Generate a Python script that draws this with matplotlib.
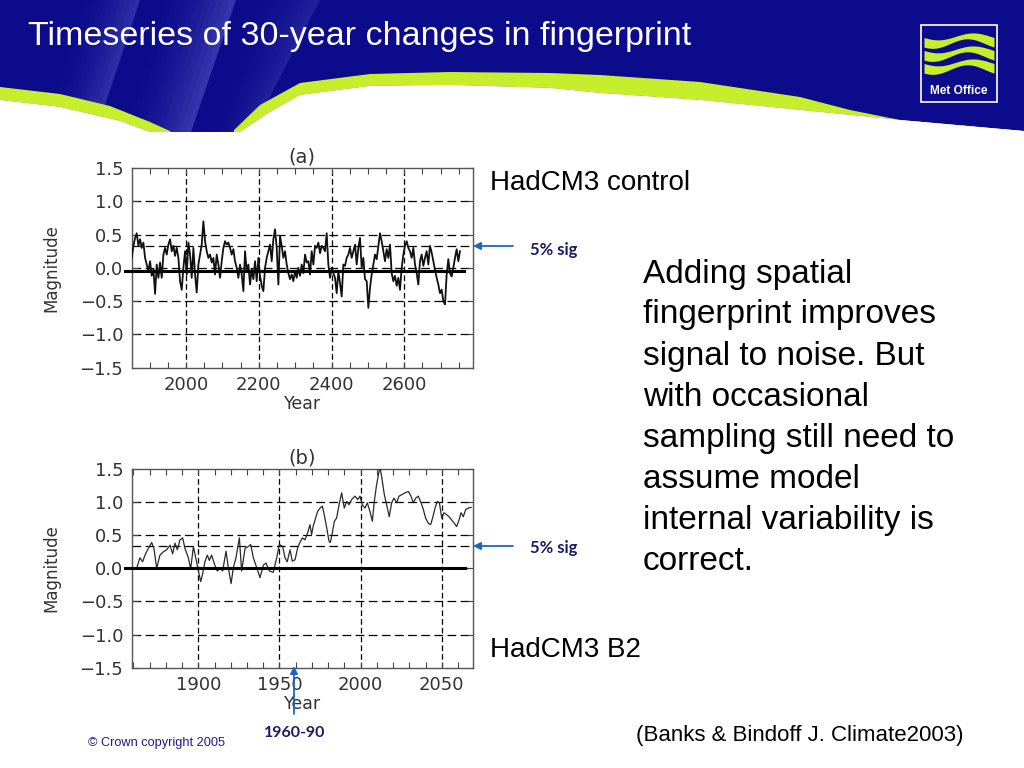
import numpy as np
import matplotlib
matplotlib.use("Agg")
import matplotlib.pyplot as plt
from matplotlib.ticker import FixedLocator, MultipleLocator, FuncFormatter

# ---------------- data ----------------
title_text = "Timeseries of 30-year changes in fingerprint"

# panel (a): HadCM3 control, values every ~4.6 model years
start_a = 1850.8
step_a = 4.58
mag_a = [0.15, 0.33, 0.45, 0.52, 0.33, 0.43, 0.30, 0.38, 0.15, 0.05,
         -0.05, 0.10, -0.12, -0.02, -0.39, 0.05, -0.15, 0.08, -0.15, 0.20,
         0.30, 0.20, 0.35, 0.43, 0.25, 0.33, 0.18, 0.30, 0.15, -0.20,
         -0.33, 0.00, 0.25, -0.10, 0.38, 0.20, -0.15, 0.30, -0.10, -0.37,
         0.05, 0.20, 0.35, 0.70, 0.40, 0.25, 0.15, 0.20, 0.08, 0.15,
         -0.10, 0.20, 0.05, -0.15, 0.10, 0.30, 0.40, 0.35, 0.38, 0.30,
         0.20, 0.28, 0.10, 0.00, -0.15, 0.05, -0.10, -0.35,
         0.25, -0.05, 0.05, -0.25, -0.02, -0.17, 0.10, -0.20, 0.15, -0.12,
         -0.27, -0.35, 0.00, 0.15, 0.25, 0.35, 0.10, 0.43, 0.58, 0.30,
         -0.25, 0.48, 0.33, 0.15, 0.25, 0.05, -0.08, -0.17, -0.10, -0.20,
         -0.05, -0.15, 0.00, -0.12, 0.05, -0.08, 0.20, 0.08, 0.10, -0.10,
         0.25, 0.05, 0.33, 0.30, 0.38, 0.22, 0.33, 0.30, 0.25, 0.52,
         0.05, -0.15, 0.00, -0.08, -0.15, -0.38, -0.05, -0.23, -0.43, 0.05,
         0.03, 0.15, 0.20, 0.30, 0.15, 0.25,
         0.35, 0.05, 0.30, 0.45, 0.00, 0.15, -0.17, -0.20, -0.60, -0.30,
         -0.10, 0.05, 0.20, 0.13, 0.33, 0.52, 0.40, 0.25, 0.10, 0.28,
         0.15, 0.35, -0.08, -0.20, -0.12, -0.27, -0.15, -0.33, 0.00, 0.20,
         0.33, 0.40, 0.30, 0.25, 0.15, 0.30, 0.05, -0.08, -0.25, 0.10,
         0.20, 0.03, 0.15, 0.25, 0.05, 0.33, 0.23, 0.10, -0.03, -0.15,
         -0.25, -0.38, -0.33, -0.50, -0.55, -0.10, 0.13, -0.08, -0.13, 0.00,
         0.15, 0.28, 0.10, 0.25]

# panel (b): HadCM3 B2
years_b = [1859.0, 1862.0, 1864.1, 1865.7, 1867.2, 1869.2, 1871.3, 1872.7, 1874.4, 1876.4,
           1878.5, 1880.5, 1882.6, 1884.2, 1885.7, 1887.1, 1888.7, 1890.4, 1891.8, 1893.9,
           1895.3, 1897.0, 1898.4, 1900.0, 1901.5, 1902.7, 1904.1, 1905.6, 1906.8, 1908.2,
           1910.3, 1911.7, 1913.4, 1915.0, 1917.1, 1918.5, 1920.2, 1921.6, 1923.2, 1925.3,
           1926.7, 1928.8, 1930.8, 1932.3, 1933.9, 1936.0, 1938.0, 1940.1, 1941.7, 1943.8,
           1946.2, 1948.3, 1949.9, 1952.0, 1953.4, 1954.8, 1956.5, 1957.9,
           1959.6, 1961.2, 1962.6, 1964.1, 1965.7, 1967.4, 1968.8, 1969.8, 1970.8, 1972.3,
           1973.5, 1975.0, 1976.4, 1977.6, 1979.1, 1980.5, 1981.3, 1982.5, 1983.8, 1985.2,
           1986.7, 1988.3, 1989.9, 1991.4, 1992.8, 1994.5, 1996.5, 1998.2, 1999.6, 2001.0,
           2002.7, 2004.1, 2005.7, 2007.2, 2008.4, 2009.8, 2011.3, 2011.9, 2012.9, 2014.6,
           2016.0, 2017.6, 2019.1, 2020.5, 2022.2, 2023.6, 2025.2, 2027.3, 2029.4, 2031.0,
           2032.4, 2033.9, 2035.5, 2037.2, 2038.6, 2040.0, 2041.7, 2043.1, 2044.3, 2045.8,
           2047.2, 2048.5, 2049.9, 2051.3, 2053.0, 2054.4, 2056.0, 2057.7, 2059.1, 2060.6,
           2061.8, 2063.2, 2064.7, 2066.3, 2068.0]
mag_b = [0.00, 0.00, 0.16, 0.10, 0.20, 0.30, 0.39, 0.30, 0.00, 0.20,
         0.25, 0.28, 0.35, 0.22, 0.38, 0.28, 0.43, 0.46, 0.30, 0.16,
         -0.01, 0.33, 0.16, -0.03, -0.20, -0.08, 0.10, 0.20, 0.12, 0.20,
         0.04, -0.04, 0.00, -0.04, 0.26, 0.01, -0.23, 0.01, 0.16, 0.46,
         -0.04, 0.30, 0.33, 0.36, 0.16, 0.01, -0.14, 0.05, 0.08, -0.04,
         -0.06, 0.16, 0.36, 0.33, 0.16, 0.10, 0.28, 0.11,
         0.13, 0.31, 0.39, 0.46, 0.43, 0.54, 0.66, 0.51, 0.64, 0.76,
         0.86, 0.91, 0.94, 0.81, 0.61, 0.41, 0.39, 0.53, 0.71, 0.76,
         0.96, 1.14, 0.91, 1.01, 0.96, 1.04, 1.09, 1.04, 1.09, 0.96,
         0.91, 0.99, 0.86, 0.71, 1.01, 1.26, 1.46, 1.52, 1.39, 1.11,
         0.96, 0.78, 0.99, 1.06, 0.99, 1.09, 1.11, 1.14, 1.16, 1.09,
         0.99, 1.06, 1.09, 0.99, 0.89, 0.76, 0.68, 0.66, 0.76, 0.91,
         1.01, 0.99, 0.76, 0.84, 0.81, 0.78, 0.73, 0.68, 0.63, 0.73,
         0.84, 0.78, 0.89, 0.91, 0.92]

sig_level = 0.33
zero_a = -0.04
zero_b = 0.0
xticks_a = [2000, 2200, 2400, 2600]
xticks_b = [1900, 1950, 2000, 2050]
yticks = [-1.5, -1.0, -0.5, 0.0, 0.5, 1.0, 1.5]
ygrid = [-1.0, -0.5, 0.0, 0.5, 1.0]
body_lines = ["Adding spatial", "fingerprint improves", "signal to noise. But",
              "with occasional", "sampling still need to", "assume model",
              "internal variability is", "correct."]

# ---------------- figure ----------------
W, H = 1024, 768
fig = plt.figure(figsize=(W / 100, H / 100), dpi=100)
fig.patch.set_facecolor("white")

# header background in pixel coordinates
bg = fig.add_axes([0, 0, 1, 1], zorder=0)
bg.set_xlim(0, W)
bg.set_ylim(H, 0)
bg.axis("off")

blue = "#0b0b8c"
lime = "#c6ee2c"
xs = np.linspace(0, W, 500)
Wx = [0, 60, 120, 150, 240, 270, 300, 370, 450, 550, 600, 700, 800, 900, 1024]
Wy = [100, 107, 121, 132, 132, 112, 95, 86, 85, 88, 93, 100, 110, 120, 131]
Lx = [0, 60, 110, 150, 172, 232, 260, 300, 370, 450, 550, 600, 700, 800, 850, 900, 1024]
Ly = [87, 94, 106, 122, 132, 132, 105, 83, 74, 72, 73, 75, 82, 97, 110, 120, 131]
wy = np.interp(xs, Wx, Wy)
ly = np.interp(xs, Lx, Ly)
bg.fill_between(xs, 0, wy, color=blue, lw=0)

def stripe(left_edge, right_edge, amax):
    n = 12
    for k in range(n):
        f0, f1 = k / n, (k + 1) / n
        (lx0, ly0), (lx1, ly1) = left_edge
        (rx0, ry0), (rx1, ry1) = right_edge
        p = [(lx0 + (rx0 - lx0) * f0, 0), (lx0 + (rx0 - lx0) * f1, 0),
             (lx1 + (rx1 - lx1) * f1, 135), (lx1 + (rx1 - lx1) * f0, 135)]
        bg.add_patch(plt.Polygon(p, closed=True, color="#7a7ae0",
                                 alpha=amax * (f1 ** 1.6), lw=0))

stripe(((80, 0), (40, 135)), ((140, 0), (95, 135)), 0.32)
stripe(((160, 0), (120, 135)), ((236, 0), (190, 135)), 0.38)
stripe(((250, 0), (210, 135)), ((320, 0), (250, 135)), 0.20)

bg.fill_between(xs, ly, wy, where=wy > ly, color=lime, lw=0)
bg.fill_between(xs, wy, 140, color="white", lw=0)

bg.text(28, 36, title_text, color="white", fontsize=24.5,
        family="Liberation Sans", va="center", ha="left")

# Met Office logo
bg.add_patch(plt.Rectangle((921, 25), 76, 77, facecolor=blue,
                           edgecolor="white", lw=1.2))
lx_ = np.linspace(924, 994, 60)
for y0 in [40, 53, 66]:
    c = y0 + 4.0 * np.sin((lx_ - 924) / 70 * 2 * np.pi + 0.6)
    th = 3.6 + 1.2 * np.cos((lx_ - 924) / 70 * 2 * np.pi)
    bg.fill_between(lx_, c - th, c + th, color=lime, lw=0)
bg.text(959, 91, "Met Office", color="white", fontsize=8.6,
        fontweight="bold", family="Liberation Sans", ha="center", va="center")

# right-hand texts
bg.text(490, 183, "HadCM3 control", fontsize=20, family="Liberation Sans",
        va="center", ha="left")
bg.text(490, 650, "HadCM3 B2", fontsize=20, family="Liberation Sans",
        va="center", ha="left")
for i, line in enumerate(body_lines):
    bg.text(643, 274 + 41 * i, line, fontsize=24, family="Liberation Sans",
            va="center", ha="left")
bg.text(636, 735, "(Banks & Bindoff J. Climate2003)", fontsize=16,
        family="Liberation Sans", va="center", ha="left")
bg.text(88, 743, "\u00a9 Crown copyright 2005", fontsize=9.2, color="#1a1a8c",
        family="Liberation Sans", va="center", ha="left")
navy = "#1c1c66"
bg.text(530, 250, "5% sig", fontsize=12, fontweight="bold", color=navy,
        family="Lato", va="center", ha="left")
bg.text(530, 548, "5% sig", fontsize=12, fontweight="bold", color=navy,
        family="Lato", va="center", ha="left")
bg.text(295, 733, "1960-90", fontsize=11.5, fontweight="bold", color=navy,
        family="Lato", va="center", ha="center")

# ---------------- the two plots ----------------
def fmt(v, pos):
    s = "%.1f" % abs(v)
    return ("\u2212" + s) if v < -1e-9 else s

tick_col = "#333333"

def style_axes(ax, xticks, minor, xlim, label):
    ax.set_xlim(*xlim)
    ax.set_ylim(-1.5, 1.5)
    ax.xaxis.set_major_locator(FixedLocator(xticks))
    ax.xaxis.set_minor_locator(MultipleLocator(minor))
    ax.yaxis.set_major_locator(FixedLocator(yticks))
    ax.yaxis.set_major_formatter(FuncFormatter(fmt))
    ax.tick_params(which="both", direction="in", top=True, right=True,
                   length=4, width=0.8, color="#444444",
                   labelsize=13, labelcolor=tick_col)
    ax.tick_params(axis="x", pad=6)
    ax.tick_params(axis="y", pad=6)
    for sp in ax.spines.values():
        sp.set_color("#555555")
        sp.set_linewidth(1.0)
    for g in ygrid + [sig_level]:
        ax.axhline(g, color="black", lw=0.9, ls=(0, (7, 3.5)), zorder=1)
    for t in xticks:
        ax.axvline(t, color="black", lw=0.9, ls=(0, (4.5, 2.5)), zorder=1)
    ax.set_xlabel("Year", fontsize=12.5, color=tick_col, labelpad=1)
    ax.set_ylabel("Magnitude", fontsize=12, color=tick_col, labelpad=14)
    ax.set_title(label, fontsize=14, color=tick_col, pad=4)

axa = fig.add_axes([131.7 / W, 1 - 367.7 / H, 341 / W, 199.7 / H], zorder=2)
axa.set_facecolor("white")
style_axes(axa, xticks_a, 50, (1850.7, 2788), "(a)")
years_a = start_a + step_a * np.arange(len(mag_a))
axa.plot(years_a, mag_a, color="#111111", lw=1.3, zorder=3)
axa.plot([1832, 2765], [zero_a, zero_a], color="black", lw=2.2,
         clip_on=False, zorder=4)

axb = fig.add_axes([131.7 / W, 1 - 667.7 / H, 341 / W, 198.7 / H], zorder=2)
axb.set_facecolor("white")
style_axes(axb, xticks_b, 10, (1859, 2069), "(b)")
axb.plot(years_b, mag_b, color="#2a2a2a", lw=0.9, zorder=3)
axb.plot([1855, 2064], [zero_b, zero_b], color="black", lw=2.2,
         clip_on=False, zorder=4)

# arrows (on top)
ov = fig.add_axes([0, 0, 1, 1], zorder=5)
ov.set_xlim(0, W)
ov.set_ylim(H, 0)
ov.axis("off")
ov.patch.set_alpha(0)
arrow_col = "#1a66c8"
for yy in [246, 546]:
    ov.annotate("", xy=(473, yy), xytext=(513, yy),
                arrowprops=dict(arrowstyle="-|>", color=arrow_col, lw=1.3,
                                mutation_scale=11, shrinkA=0, shrinkB=0))
ov.annotate("", xy=(294, 666), xytext=(294, 714),
            arrowprops=dict(arrowstyle="-|>", color=arrow_col, lw=1.3,
                            mutation_scale=11, shrinkA=0, shrinkB=0))

fig.savefig("out.png", dpi=100)
